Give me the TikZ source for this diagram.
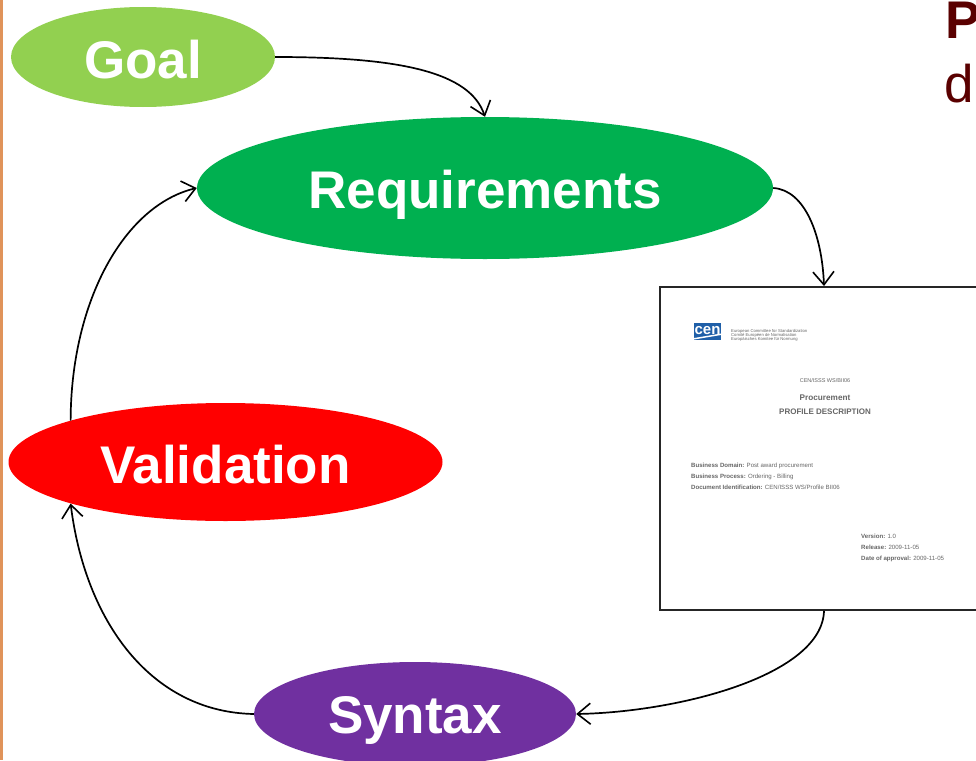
\documentclass[tikz,border=0pt]{standalone}
\usepackage{fontspec}
\setmainfont{Liberation Sans}
\usetikzlibrary{shapes.geometric,arrows.meta}
\definecolor{goalc}{HTML}{92D050}
\definecolor{reqc}{HTML}{00B050}
\definecolor{valc}{HTML}{FF0000}
\definecolor{sync}{HTML}{7030A0}
\definecolor{barc}{HTML}{E0935A}
\definecolor{headc}{HTML}{5A0000}
\definecolor{logoc}{HTML}{1F5FA8}
\definecolor{doct}{HTML}{666666}
\newcommand{\fs}[1]{\fontsize{#1}{#1}\selectfont}
\newcommand{\low}[2]{\raisebox{-#1pt}[0pt][0pt]{#2}}
\tikzset{
  stage/.style={ellipse,draw=none,inner sep=0pt,text=white,font=\fs{53}\bfseries},
  flow/.style={draw=black,line width=1.7pt,-{Straight Barb[length=13pt,width=21pt,line width=1.6pt]}},
  docsmall/.style={anchor=base west,inner sep=0pt,text=doct,font=\fs{6.1}},
  doctitle/.style={anchor=base,inner sep=0pt,text=doct,font=\fs{5.5}},
  head/.style={anchor=base west,inner sep=0pt,text=headc,font=\fs{53}}
}
\begin{document}
\begin{tikzpicture}[x=1pt,y=-1pt]
\useasboundingbox (0,0) rectangle (976,760);
\clip (0,0) rectangle (976,760);
\fill[white] (0,0) rectangle (976,760);
\fill[barc] (0,0) rectangle (3,760);
% heading fragments
\node[head,font=\fs{53}\bfseries] (hp) at (945,38) {P};
\node[head] (hd) at (944,102) {d};
% document
\node[rectangle,draw=black!85,line width=2pt,fill=white,minimum width=328pt,minimum height=323pt,inner sep=0pt] (doc) at (824,448.5) {};
\node[fill=logoc,minimum width=27pt,minimum height=17pt,inner sep=0pt,text=white,font=\fs{15}\bfseries] (logo) at (707.5,331.5) {\raisebox{2pt}{cen}};
\fill[white] (694,338) -- (721,333.5) -- (721,335) -- (694,339.5) -- cycle;
\node[docsmall,font=\fs{4.2}] (l1) at (731,332) {European Committee for Standardization};
\node[docsmall,font=\fs{4.2}] (l2) at (731,336) {Comité Européen de Normalisation};
\node[docsmall,font=\fs{4.2}] (l3) at (731,340) {Europäisches Komitee für Normung};
\node[doctitle] (t1) at (825,382) {CEN/ISSS WS/BII06};
\node[doctitle,font=\fs{8.2}\bfseries] (t2) at (825,400) {Procurement};
\node[doctitle,font=\fs{8}\bfseries] (t3) at (825,414) {PROFILE DESCRIPTION};
\node[docsmall] (b1) at (691,467) {\textbf{Business Domain:} Post award procurement};
\node[docsmall] (b2) at (691,478) {\textbf{Business Process:} Ordering - Billing};
\node[docsmall] (b3) at (691,489) {\textbf{Document Identification:} CEN/ISSS WS/Profile BII06};
\node[docsmall] (v1) at (861,538) {\textbf{Version:} 1.0};
\node[docsmall] (v2) at (861,549) {\textbf{Release:} 2009-11-05};
\node[docsmall] (v3) at (861,560) {\textbf{Date of approval:} 2009-11-05};
% stages
\node[stage,fill=goalc,minimum width=264pt,minimum height=100pt] (goal) at (143,57) {\low{21}{Goal}};
\node[stage,fill=reqc,minimum width=576pt,minimum height=142pt] (req) at (485,188) {\low{20}{Requirements}};
\node[stage,fill=valc,minimum width=434pt,minimum height=118pt] (val) at (225.5,462) {\low{21}{Validation}};
\node[stage,fill=sync,minimum width=322pt,minimum height=104pt] (syn) at (415,714) {\low{19}{Syntax}};
% connectors
\draw[flow] (goal.east) .. controls (400,57) and (470,72) .. (req.north);
\draw[flow] (req.east) .. controls (805,190) and (822,235) .. (doc.north);
\draw[flow] (doc.south) .. controls (822,675) and (680,712) .. (syn.east);
\draw[flow] (syn.west) .. controls (150,712) and (85,620) .. (val.195.3);
\draw[flow] (val.165.2) .. controls (71,300) and (125,205) .. (req.west);
\end{tikzpicture}
\end{document}
